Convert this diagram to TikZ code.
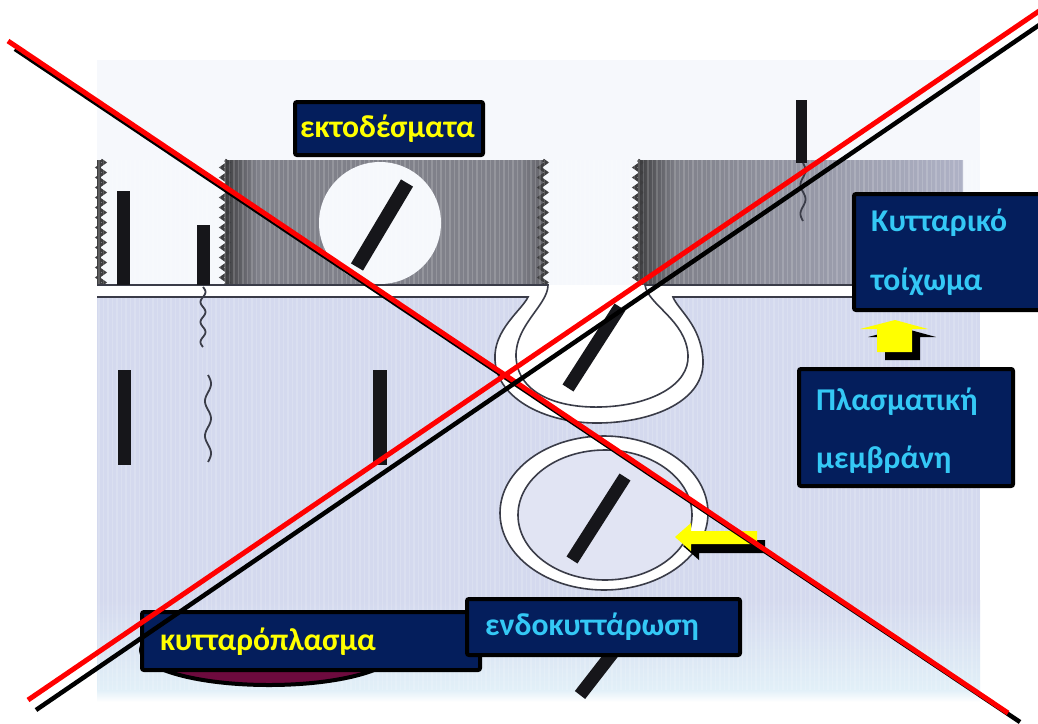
\documentclass[tikz,border=0pt]{standalone}
\usepackage{fontspec}
\setmainfont{Carlito}
\usetikzlibrary{decorations.pathmorphing}

\definecolor{navy}{RGB}{4,30,92}
\definecolor{lblyellow}{RGB}{255,255,0}
\definecolor{lblcyan}{RGB}{52,200,245}
\definecolor{cyto}{RGB}{212,217,238}
\definecolor{cytofade}{RGB}{226,240,248}
\definecolor{paper}{RGB}{246,248,252}
\definecolor{wallD}{RGB}{62,62,64}
\definecolor{wallM}{RGB}{128,129,138}
\definecolor{wallL}{RGB}{175,178,198}
\definecolor{wallE}{RGB}{100,100,106}
\definecolor{rodc}{RGB}{22,22,26}
\definecolor{edge}{RGB}{58,60,72}
\definecolor{plum}{RGB}{110,10,62}

% wall shadings: the path's box spans 25bp..75bp
\pgfdeclarehorizontalshading{wallleft}{100bp}{color(0bp)=(wallD); color(25bp)=(wallD); color(30bp)=(wallM); color(71bp)=(wallM); color(75bp)=(wallE); color(100bp)=(wallE)}
\pgfdeclarehorizontalshading{wallright}{100bp}{color(0bp)=(wallD); color(25bp)=(wallD); color(31bp)=(wallM); color(75bp)=(wallL); color(100bp)=(wallL)}

\tikzset{
  x=1pt, y=-1pt,
  rod/.style={draw=rodc, line width=13pt, line cap=butt},
  squig/.style={draw=edge, line width=1.8pt, line join=round},
  teeth/.style={draw=wallD, line width=3pt, decorate, decoration={zigzag, segment length=10pt, amplitude=3.5pt}},
  memline/.style={draw=edge, line width=1.6pt},
  lblbox/.style={draw=black, line width=4pt, fill=navy, rounded corners=2pt, anchor=north west, inner sep=0pt},
  ytext/.style={text=lblyellow, font=\bfseries\fontsize{31.7}{36}\selectfont, anchor=base west, inner sep=0pt},
  ctext/.style={text=lblcyan, font=\bfseries\fontsize{31.7}{36}\selectfont, anchor=base west, inner sep=0pt},
  shadowc/.style={fill=black},
  arrowc/.style={fill=lblyellow},
  redx/.style={draw=red, line width=5pt},
  blackx/.style={draw=black, line width=4.5pt},
}

\begin{document}
\begin{tikzpicture}
\useasboundingbox (0,0) rectangle (1038,723);
\fill[white] (0,0) rectangle (1038,723);

% scanned page: pale paper above, cytoplasm below the membrane
\fill[paper] (97,60) rectangle (980,297);
\fill[cyto] (97,297) rectangle (980,600);
\shade[top color=cyto, bottom color=cytofade] (97,600) rectangle (980,690);
\shade[top color=cytofade, bottom color=white] (97,690) rectangle (980,702);

% cell wall blocks
\fill[wallD] (97,160) rectangle (101,285);
\shade[shading=wallleft] (225,160) rectangle (543,285);
\shade[shading=wallright] (638,160) rectangle (963,285);
\draw[teeth] (101,160) -- (101,285);
\draw[teeth] (225,160) -- (225,285);
\draw[teeth] (543,160) -- (543,285);
\draw[teeth] (638,160) -- (638,285);
\fill[paper] (380,223) circle[radius=61pt];

% faint vertical screen lines of the print
\foreach \k in {0,...,196}
  \draw[white, opacity=0.16, line width=1.3pt] ({99+4.5*\k},160) -- ({99+4.5*\k},690);

% plasma membrane with the inward bulge
\fill[white] (548,285)
  .. controls (548,305) and (515,325) .. (516,357)
  .. controls (518,395) and (560,408) .. (600,407)
  .. controls (650,406) and (690,385) .. (688,355)
  .. controls (686,320) and (648,305) .. (645,285) -- cycle;
\fill[white] (97,285) -- (548,285)
  .. controls (548,305) and (515,325) .. (516,357)
  .. controls (518,395) and (560,408) .. (600,407)
  .. controls (650,406) and (690,385) .. (688,355)
  .. controls (686,320) and (648,305) .. (645,285)
  -- (978,285) -- (978,297) -- (673,297)
  .. controls (678,310) and (701,325) .. (703,360)
  .. controls (705,400) and (655,422) .. (600,423)
  .. controls (548,424) and (497,400) .. (495,360)
  .. controls (493,330) and (522,310) .. (528,297)
  -- (97,297) -- cycle;
\draw[memline] (97,285) -- (548,285)
  .. controls (548,305) and (515,325) .. (516,357)
  .. controls (518,395) and (560,408) .. (600,407)
  .. controls (650,406) and (690,385) .. (688,355)
  .. controls (686,320) and (648,305) .. (645,285) -- (978,285);
\draw[memline] (97,297) -- (528,297)
  .. controls (522,310) and (493,330) .. (495,360)
  .. controls (497,400) and (548,424) .. (600,423)
  .. controls (655,422) and (705,400) .. (703,360)
  .. controls (701,325) and (678,310) .. (673,297) -- (978,297);

% pinched-off vesicle
\draw[memline, fill=white] (604,513) ellipse[x radius=104pt, y radius=77pt];
\draw[memline, fill=cyto!70!white] (605,515) ellipse[x radius=87pt, y radius=65pt];

% rods and their tails
\draw[rod] (123,191) -- (123,285);
\draw[rod] (203,225) -- (203,285);
\draw[rod, line width=14pt] (407,183) -- (357,267);
\draw[rod] (124,370) -- (124,465);
\draw[rod, line width=14pt] (380,370) -- (380,465);
\draw[rod] (620,307) -- (568,388);
\draw[rod] (625,477) -- (572,560);
\draw[rod] (632,628) -- (580,695);
\draw[rod, line width=11pt] (801,100) -- (801,163);
\draw[squig] plot[domain=0:1, samples=60, smooth] ({203+2.5*sin(\x*1080)}, {287+60*\x});
\draw[squig] plot[domain=0:1, samples=60, smooth] ({208+3*sin(\x*900)}, {375+87*\x});
\draw[squig] plot[domain=0:1, samples=60, smooth] ({803+2.5*sin(\x*720)}, {163+58*\x});

% labels
\node[lblbox, minimum width=188pt, minimum height=53pt] (bxEkto) at (293,100) {};
\node[ytext] (tEkto) at (300,137) {εκτοδέσματα};

\node[lblbox, minimum width=200pt, minimum height=116pt] (bxWall) at (852,192) {};
\node[ctext] (tWallA) at (871,231) {Κυτταρικό};
\node[ctext] (tWallB) at (871,290) {τοίχωμα};

\node[lblbox, minimum width=214pt, minimum height=117pt] (bxMem) at (797,367) {};
\node[ctext] (tMemA) at (816,410) {Πλασματική};
\node[ctext] (tMemB) at (816,468) {μεμβράνη};

\draw[black, line width=4pt, fill=plum] (269,650) ellipse[x radius=128pt, y radius=35pt];
\node[lblbox, minimum width=338pt, minimum height=58pt] (bxCyto) at (140,610) {};
\node[ytext] (tCyto) at (160,650) {κυτταρόπλασμα};

\node[lblbox, minimum width=273pt, minimum height=56pt] (bxEndo) at (465,597) {};
\node[ctext] (tEndo) at (485,635) {ενδοκυττάρωση};

% block arrows with drop shadow
\begin{scope}[shift={(8,8)}]
  \fill[shadowc] (895,320) -- (928,329) -- (912,329) -- (912,352) -- (877,352) -- (877,329) -- (860,329) -- cycle;
\end{scope}
\fill[arrowc] (895,320) -- (928,329) -- (912,329) -- (912,352) -- (877,352) -- (877,329) -- (860,329) -- cycle;
\begin{scope}[shift={(8,9)}]
  \fill[shadowc] (675,537) -- (691,523) -- (691,531) -- (757,531) -- (757,544) -- (691,544) -- (691,551) -- cycle;
\end{scope}
\fill[arrowc] (675,537) -- (691,523) -- (691,531) -- (757,531) -- (757,544) -- (691,544) -- (691,551) -- cycle;

% crossing-out strokes
\draw[blackx] (15,49) -- (1020,722);
\draw[redx] (8,41) -- (1008,713);
\draw[blackx] (36,710) -- (1048,19);
\draw[redx] (28,700) -- (1048,5);
\end{tikzpicture}
\end{document}
